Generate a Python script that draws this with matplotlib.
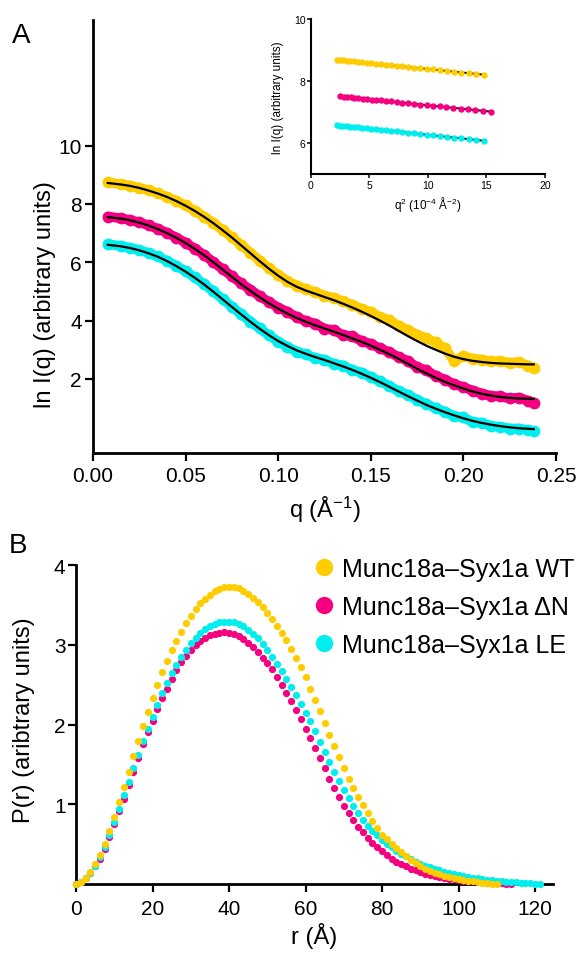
import numpy as np
import matplotlib
matplotlib.use("Agg")
import matplotlib.pyplot as plt

plt.rcParams['font.family'] = ['Liberation Sans', 'DejaVu Sans']
plt.rcParams['mathtext.fontset'] = 'custom'
plt.rcParams['mathtext.rm'] = 'Liberation Sans'
plt.rcParams['mathtext.it'] = 'Liberation Sans:italic'
plt.rcParams['mathtext.default'] = 'regular'

YELLOW = '#FFCC00'
PINK = '#F50080'
CYAN = '#00EEEE'

# ---- panel A: ln I(q) vs q, data + fit ----
q = [0.008, 0.015, 0.020, 0.025, 0.030, 0.035, 0.040, 0.045, 0.050, 0.055,
     0.060, 0.065, 0.070, 0.075, 0.080, 0.085, 0.090, 0.095, 0.100, 0.105,
     0.110, 0.115, 0.120, 0.125, 0.130, 0.135, 0.140, 0.145, 0.150, 0.155,
     0.160, 0.165, 0.170, 0.175, 0.180, 0.185, 0.190, 0.195, 0.200, 0.205,
     0.210, 0.215, 0.220, 0.225, 0.230, 0.235, 0.238]

wt_data = [8.74, 8.68, 8.63, 8.56, 8.47, 8.37, 8.25, 8.11, 7.95, 7.77,
           7.57, 7.35, 7.11, 6.86, 6.60, 6.33, 6.06, 5.80, 5.57, 5.36,
           5.20, 5.08, 4.98, 4.86, 4.78, 4.66, 4.55, 4.40, 4.30, 4.12,
           4.02, 3.82, 3.68, 3.52, 3.40, 3.25, 3.05, 2.62, 2.78, 2.70,
           2.66, 2.60, 2.62, 2.55, 2.58, 2.45, 2.36]
wt_fit = [8.72, 8.67, 8.62, 8.55, 8.46, 8.36, 8.24, 8.10, 7.94, 7.76,
          7.56, 7.34, 7.10, 6.85, 6.58, 6.31, 6.04, 5.78, 5.54, 5.33,
          5.16, 5.03, 4.92, 4.81, 4.70, 4.58, 4.45, 4.31, 4.16, 4.00,
          3.83, 3.65, 3.47, 3.30, 3.14, 3.00, 2.87, 2.76, 2.68, 2.62,
          2.58, 2.55, 2.53, 2.52, 2.51, 2.50, 2.50]

dn_data = [7.57, 7.51, 7.45, 7.37, 7.27, 7.15, 7.01, 6.85, 6.67, 6.47,
           6.25, 6.01, 5.76, 5.52, 5.28, 5.06, 4.84, 4.64, 4.45, 4.30,
           4.12, 3.98, 3.90, 3.72, 3.68, 3.50, 3.46, 3.30, 3.20, 3.05,
           2.92, 2.75, 2.62, 2.40, 2.30, 2.10, 1.98, 1.82, 1.72, 1.60,
           1.50, 1.42, 1.40, 1.33, 1.36, 1.25, 1.18]
dn_fit = [7.55, 7.50, 7.44, 7.36, 7.26, 7.14, 7.00, 6.84, 6.66, 6.46,
          6.24, 6.00, 5.75, 5.50, 5.25, 5.02, 4.80, 4.59, 4.41, 4.24,
          4.09, 3.96, 3.84, 3.73, 3.62, 3.51, 3.39, 3.27, 3.14, 3.00,
          2.85, 2.69, 2.52, 2.35, 2.19, 2.04, 1.90, 1.78, 1.67, 1.57,
          1.49, 1.43, 1.38, 1.35, 1.33, 1.32, 1.32]

le_data = [6.62, 6.56, 6.50, 6.42, 6.32, 6.20, 6.05, 5.88, 5.69, 5.48,
           5.25, 5.00, 4.74, 4.48, 4.22, 3.97, 3.73, 3.50, 3.28, 3.10,
           2.94, 2.84, 2.72, 2.66, 2.52, 2.46, 2.30, 2.22, 2.06, 1.92,
           1.76, 1.58, 1.46, 1.28, 1.14, 1.00, 0.88, 0.72, 0.68, 0.52,
           0.50, 0.38, 0.36, 0.30, 0.30, 0.24, 0.20]
le_fit = [6.60, 6.55, 6.49, 6.41, 6.31, 6.19, 6.04, 5.87, 5.68, 5.47,
          5.24, 4.99, 4.73, 4.47, 4.21, 3.96, 3.72, 3.50, 3.30, 3.13,
          2.98, 2.86, 2.75, 2.65, 2.54, 2.43, 2.31, 2.18, 2.04, 1.89,
          1.73, 1.57, 1.41, 1.26, 1.11, 0.98, 0.86, 0.75, 0.65, 0.56,
          0.49, 0.43, 0.38, 0.34, 0.31, 0.29, 0.28]

# ---- inset: Guinier region, q^2 in 1e-4 A^-2 ----
wt_q2 = [2.20, 2.47, 2.75, 3.05, 3.36, 3.69, 4.04, 4.39, 4.77, 5.16,
         5.56, 5.99, 6.42, 6.87, 7.34, 7.82, 8.32, 8.83, 9.36, 9.90,
         10.47, 11.04, 11.63, 12.24, 12.85, 13.49, 14.14, 14.81]
wt_guinier = [8.68, 8.67, 8.66, 8.65, 8.64, 8.63, 8.61, 8.60, 8.58, 8.57,
              8.55, 8.54, 8.52, 8.50, 8.48, 8.47, 8.45, 8.43, 8.41, 8.39,
              8.37, 8.34, 8.32, 8.30, 8.27, 8.25, 8.23, 8.20]
dn_q2 = [2.50, 2.78, 3.08, 3.39, 3.72, 4.06, 4.42, 4.79, 5.18, 5.58,
         6.00, 6.43, 6.88, 7.34, 7.82, 8.31, 8.82, 9.34, 9.88, 10.43,
         11.00, 11.58, 12.18, 12.79, 13.42, 14.06, 14.72, 15.40]
dn_guinier = [7.50, 7.49, 7.48, 7.47, 7.46, 7.44, 7.43, 7.42, 7.40, 7.39,
              7.37, 7.36, 7.34, 7.32, 7.30, 7.28, 7.26, 7.24, 7.22, 7.20,
              7.18, 7.16, 7.13, 7.11, 7.09, 7.06, 7.04, 7.01]
le_q2 = wt_q2
le_guinier = [6.57, 6.56, 6.55, 6.54, 6.53, 6.52, 6.50, 6.49, 6.47, 6.46,
              6.44, 6.42, 6.41, 6.39, 6.37, 6.35, 6.33, 6.31, 6.29, 6.27,
              6.25, 6.22, 6.20, 6.17, 6.15, 6.12, 6.10, 6.07]

# ---- panel B: P(r), sampled every 1.25 A ----
R_STEP = 1.25
wt_pr = [0.0, 0.03, 0.08, 0.15, 0.25, 0.37, 0.50, 0.66, 0.84, 1.03,
         1.22, 1.41, 1.60, 1.79, 1.98, 2.16, 2.33, 2.50, 2.66, 2.80,
         2.93, 3.05, 3.16, 3.27, 3.36, 3.45, 3.52, 3.58, 3.63, 3.67,
         3.70, 3.72, 3.73, 3.73, 3.71, 3.68, 3.64, 3.59, 3.53, 3.47,
         3.40, 3.32, 3.24, 3.15, 3.06, 2.95, 2.84, 2.72, 2.59, 2.45,
         2.31, 2.17, 2.02, 1.87, 1.73, 1.59, 1.45, 1.32, 1.20, 1.09,
         0.99, 0.89, 0.79, 0.70, 0.62, 0.56, 0.50, 0.45, 0.40, 0.35,
         0.30, 0.26, 0.22, 0.19, 0.165, 0.14, 0.12, 0.10, 0.085, 0.072,
         0.06, 0.05, 0.041, 0.033, 0.026, 0.019, 0.012, 0.006, 0.0]
dn_pr = [0.0, 0.02, 0.07, 0.14, 0.22, 0.32, 0.44, 0.59, 0.75, 0.91,
         1.07, 1.24, 1.41, 1.58, 1.75, 1.90, 2.05, 2.19, 2.33, 2.45,
         2.57, 2.68, 2.78, 2.86, 2.94, 3.00, 3.05, 3.09, 3.12, 3.14,
         3.15, 3.16, 3.15, 3.13, 3.11, 3.07, 3.02, 2.97, 2.91, 2.84,
         2.77, 2.69, 2.60, 2.50, 2.40, 2.29, 2.18, 2.07, 1.95, 1.83,
         1.70, 1.58, 1.45, 1.32, 1.20, 1.09, 0.98, 0.89, 0.80, 0.72,
         0.65, 0.58, 0.52, 0.46, 0.41, 0.36, 0.32, 0.28, 0.25, 0.22,
         0.19, 0.17, 0.145, 0.13, 0.11, 0.097, 0.085, 0.075, 0.065, 0.057,
         0.05, 0.043, 0.037, 0.032, 0.027, 0.022, 0.018, 0.014, 0.01, 0.007,
         0.004, 0.0]
le_pr = [0.0, 0.02, 0.07, 0.14, 0.23, 0.34, 0.47, 0.62, 0.78, 0.94,
         1.11, 1.28, 1.45, 1.62, 1.79, 1.95, 2.10, 2.25, 2.39, 2.52,
         2.64, 2.75, 2.85, 2.94, 3.02, 3.09, 3.15, 3.20, 3.24, 3.26,
         3.28, 3.29, 3.29, 3.28, 3.26, 3.23, 3.19, 3.14, 3.08, 3.01,
         2.93, 2.85, 2.76, 2.67, 2.57, 2.47, 2.37, 2.26, 2.15, 2.04,
         1.92, 1.78, 1.65, 1.53, 1.41, 1.29, 1.18, 1.08, 0.98, 0.89,
         0.80, 0.73, 0.67, 0.61, 0.55, 0.50, 0.46, 0.42, 0.38, 0.35,
         0.31, 0.28, 0.25, 0.23, 0.21, 0.19, 0.17, 0.155, 0.14, 0.125,
         0.11, 0.10, 0.09, 0.08, 0.07, 0.062, 0.055, 0.048, 0.04, 0.035,
         0.03, 0.025, 0.02, 0.015, 0.011, 0.007, 0.004, 0.0]

labels = ['Munc18a\u2013Syx1a WT', 'Munc18a\u2013Syx1a \u0394N', 'Munc18a\u2013Syx1a LE']


def style_axes(ax, lw, tick_len, tick_w, pad, size):
    for side in ['top', 'right']:
        ax.spines[side].set_visible(False)
    for side in ['left', 'bottom']:
        ax.spines[side].set_linewidth(lw)
    ax.tick_params(direction='out', length=tick_len, width=tick_w,
                   labelsize=size, pad=pad)


fig = plt.figure(figsize=(5.83, 9.54), dpi=100)

# panel A
axA = fig.add_axes([0.1595, 0.5241, 0.7942, 0.4542])
for data, fit, col in [(le_data, le_fit, CYAN), (dn_data, dn_fit, PINK), (wt_data, wt_fit, YELLOW)]:
    axA.plot(q, data, '-o', color=col, lw=7, ms=7.5, solid_capstyle='round',
             solid_joinstyle='round', zorder=2)
for fit in [le_fit, dn_fit, wt_fit]:
    axA.plot(q, fit, color='black', lw=1.6, zorder=3)
axA.set_xlim(0, 0.25)
axA.set_ylim(-0.54, 14.32)
axA.set_xticks([0, 0.05, 0.10, 0.15, 0.20, 0.25])
axA.set_xticklabels(['0.00', '0.05', '0.10', '0.15', '0.20', '0.25'])
axA.set_yticks([2, 4, 6, 8, 10])
style_axes(axA, 2.0, 5.5, 1.6, 2.5, 15)
axA.tick_params(axis='x', pad=4)
axA.set_xlabel('q (\u00c5$^{-1}$)', fontsize=17)
axA.xaxis.set_label_coords(0.5, -0.095)
axA.xaxis.label.set_va('top')
axA.set_ylabel('ln I(q) (arbitrary units)', fontsize=17)
axA.yaxis.set_label_coords(-0.08, 0.367)
axA.yaxis.label.set_va('bottom')
fig.text(0.020, 0.976, 'A', fontsize=20, va='top', ha='left')

# inset
axI = fig.add_axes([0.5334, 0.8166, 0.4014, 0.1625])
axI.patch.set_alpha(0)
for q2, g, col in [(wt_q2, wt_guinier, YELLOW), (dn_q2, dn_guinier, PINK), (le_q2, le_guinier, CYAN)]:
    axI.plot([q2[0], q2[-1]], [g[0], g[-1]], color='black', lw=1.4, zorder=2)
    axI.plot(q2, g, 'o', color=col, ms=4.6, mew=0, zorder=3)
axI.set_xlim(0, 20)
axI.set_ylim(5, 10)
axI.set_xticks([0, 5, 10, 15, 20])
axI.set_yticks([6, 8, 10])
style_axes(axI, 1.5, 2.8, 1.1, 1.2, 7.5)
axI.set_xlabel('q$^{2}$ (10$^{-4}$ \u00c5$^{-2}$)', fontsize=8.5)
axI.xaxis.set_label_coords(0.5, -0.13)
axI.xaxis.label.set_va('top')
axI.set_ylabel('ln I(q) (arbitrary units)', fontsize=8.5)
axI.yaxis.set_label_coords(-0.115, 0.5)

# panel B
axB = fig.add_axes([0.1304, 0.0723, 0.8182, 0.3344])
for pr, col, lab, z in [(dn_pr, PINK, labels[1], 3), (le_pr, CYAN, labels[2], 4), (wt_pr, YELLOW, labels[0], 5)]:
    r = np.arange(len(pr)) * R_STEP
    axB.plot(r, pr, 'o', ls='none', color=col, ms=5.2, mew=0, label=lab,
             zorder=z, clip_on=False)
axB.set_xlim(0, 124.7)
axB.set_ylim(0, 4)
axB.set_xticks([0, 20, 40, 60, 80, 100, 120])
axB.set_yticks([1, 2, 3, 4])
style_axes(axB, 2.0, 5.5, 1.6, 2.0, 15)
axB.tick_params(axis='x', pad=5)
axB.set_xlabel('r (\u00c5)', fontsize=17)
axB.xaxis.set_label_coords(0.5, -0.12)
axB.xaxis.label.set_va('top')
axB.set_ylabel('P(r) (aribtrary units)', fontsize=17)
axB.yaxis.set_label_coords(-0.085, 0.517)
fig.text(0.015, 0.441, 'B', fontsize=20, va='top', ha='left')

h, l = axB.get_legend_handles_labels()
order = [2, 0, 1]
leg = axB.legend([h[i] for i in order], [l[i] for i in order],
                 loc='upper left', bbox_to_anchor=(0.5386, 0.415),
                 bbox_transform=fig.transFigure, frameon=False, fontsize=18,
                 handlelength=0.8, handletextpad=0.3, labelspacing=0.55,
                 borderpad=0, borderaxespad=0, markerscale=2.4)

fig.savefig('out.png', dpi=100)
